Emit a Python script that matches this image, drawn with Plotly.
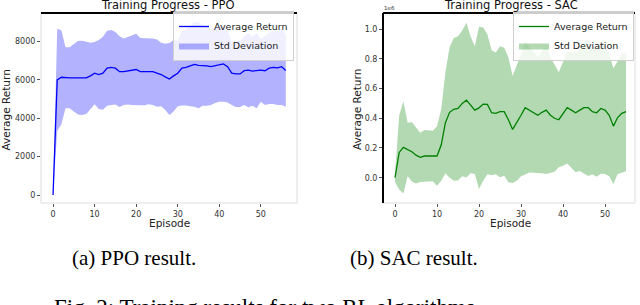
import plotly.graph_objects as go

# ---------------- data ----------------
ppo_episodes = list(range(57))
ppo_mean = [0, 5990, 6130, 6100, 6100, 6100, 6100, 6100, 6100, 6200,
            6340, 6270, 6340, 6600, 6640, 6600, 6420, 6420, 6470, 6500,
            6530, 6420, 6420, 6450, 6420, 6340, 6270, 6150, 6040, 6200,
            6340, 6600, 6640, 6720, 6800, 6750, 6750, 6720, 6680, 6740,
            6790, 6820, 6680, 6340, 6300, 6300, 6470, 6500, 6450, 6470,
            6500, 6470, 6600, 6640, 6620, 6680, 6480]
ppo_std = [0, 2660, 2450, 1590, 1590, 1760, 1910, 1930, 1880, 1720,
           1620, 1800, 1900, 1950, 1950, 1890, 1840, 1730, 1760, 1820,
           1860, 1750, 1750, 1730, 1730, 1750, 1650, 1720, 1870, 1860,
           1720, 1940, 1980, 2100, 2200, 2240, 2110, 2080, 1990, 1950,
           1930, 1960, 1870, 1650, 1720, 1720, 1780, 1930, 1810, 1960,
           1640, 1780, 1860, 1900, 1930, 1990, 1890]

sac_episodes = list(range(56))
# SAC values in units of 1e6
sac_mean = [0.0, 0.17, 0.204, 0.19, 0.175, 0.152, 0.137, 0.146, 0.146, 0.146,
            0.146, 0.22, 0.37, 0.44, 0.46, 0.466, 0.50, 0.522, 0.49, 0.455,
            0.47, 0.495, 0.493, 0.437, 0.433, 0.444, 0.444, 0.39, 0.325, 0.37,
            0.42, 0.471, 0.455, 0.44, 0.42, 0.44, 0.455, 0.42, 0.40, 0.39,
            0.43, 0.471, 0.455, 0.437, 0.455, 0.471, 0.471, 0.444, 0.437, 0.466,
            0.455, 0.42, 0.347, 0.405, 0.433, 0.444]
sac_std = [0.03, 0.25, 0.31, 0.18, 0.20, 0.19, 0.165, 0.175, 0.17, 0.17,
           0.20, 0.24, 0.34, 0.44, 0.48, 0.485, 0.49, 0.52, 0.46, 0.43,
           0.545, 0.515, 0.47, 0.42, 0.41, 0.44, 0.43, 0.42, 0.36, 0.39,
           0.41, 0.45, 0.42, 0.41, 0.39, 0.41, 0.43, 0.39, 0.36, 0.32,
           0.35, 0.375, 0.39, 0.40, 0.41, 0.44, 0.46, 0.42, 0.43, 0.44,
           0.43, 0.41, 0.39, 0.38, 0.40, 0.40]

ppo_xticks = [0, 10, 20, 30, 40, 50]
ppo_yticks = [0, 2000, 4000, 6000, 8000]
sac_xticks = [0, 10, 20, 30, 40, 50]
sac_yticks = [0.0, 0.2, 0.4, 0.6, 0.8, 1.0]

# ---------------- layout helpers ----------------
W, H = 640, 305
def px(x):
    return x / W
def py(y):
    return 1 - y / H

SANS = "DejaVu Sans"
SERIF = "Liberation Serif"

fig = go.Figure()

def add_panel(xs, mean, std, line_color, fill_color, xa, ya, legend):
    upper = [m + s for m, s in zip(mean, std)]
    lower = [m - s for m, s in zip(mean, std)]
    fig.add_trace(go.Scatter(
        x=xs + xs[::-1], y=upper + lower[::-1], fill="toself",
        fillcolor=fill_color, line=dict(width=0), mode="lines",
        name="Std Deviation", xaxis=xa, yaxis=ya, legend=legend,
        legendrank=2, hoverinfo="skip"))
    fig.add_trace(go.Scatter(
        x=xs, y=mean, mode="lines", line=dict(color=line_color, width=1.3),
        name="Average Return", xaxis=xa, yaxis=ya, legend=legend,
        legendrank=1))

add_panel(ppo_episodes, ppo_mean, ppo_std, "#0000ff",
          "rgba(0,0,255,0.3)", "x", "y", "legend")
add_panel(sac_episodes, sac_mean, sac_std, "#008000",
          "rgba(0,128,0,0.3)", "x2", "y2", "legend2")

tickfont = dict(family=SANS, size=8, color="#333333")
axis_common = dict(showgrid=False, zeroline=False, ticks="outside",
                   ticklen=3, tickwidth=0.8, tickcolor="#555555",
                   tickfont=tickfont, showline=False)

legend_common = dict(xanchor="right", yanchor="top",
                     bgcolor="rgba(255,255,255,0.8)", bordercolor="#d0d0d0",
                     borderwidth=1,
                     font=dict(family=SANS, size=9.5, color="#222"),
                     itemwidth=30, tracegroupgap=0)

fig.update_layout(
    width=W, height=H,
    margin=dict(l=0, r=0, t=0, b=0),
    paper_bgcolor="white", plot_bgcolor="white",
    xaxis=dict(domain=[px(41), px(297)], range=[-2.9, 58.7],
               tickvals=ppo_xticks, anchor="y", **axis_common),
    yaxis=dict(domain=[py(203), py(13)], range=[-416, 9473],
               tickvals=ppo_yticks, anchor="x", **axis_common),
    xaxis2=dict(domain=[px(383), px(635)], range=[-2.86, 57.14],
                tickvals=sac_xticks, anchor="y2", **axis_common),
    yaxis2=dict(domain=[py(203), py(13)], range=[-0.170, 1.108],
                tickvals=sac_yticks, tickformat=".1f", anchor="x2",
                **axis_common),
    legend=dict(x=px(294), y=py(11), **legend_common),
    legend2=dict(x=px(634), y=py(11), **legend_common),
    showlegend=True,
)

shapes = []
for xr, yr in (("x", "y"), ("x2", "y2")):
    shapes.append(dict(type="rect", xref=f"{xr} domain", yref=f"{yr} domain",
                       x0=0, x1=1, y0=0, y1=1,
                       line=dict(color="#dddddd", width=1), layer="above"))
    shapes.append(dict(type="line", xref=f"{xr} domain", yref=f"{yr} domain",
                       x0=0, x1=1, y0=1, y1=1,
                       line=dict(color="black", width=2), layer="above"))
shapes.append(dict(type="line", xref="x2 domain", yref="y2 domain",
                   x0=0, x1=0, y0=0, y1=1,
                   line=dict(color="black", width=2), layer="above"))
fig.update_layout(shapes=shapes)

def ann(text, x, y, size, family=SANS, color="#111111", angle=0):
    fig.add_annotation(text=text, x=px(x), y=py(y), xref="paper", yref="paper",
                       showarrow=False, xanchor="center", yanchor="middle",
                       textangle=angle,
                       font=dict(family=family, size=size, color=color))

ann("Training Progress - PPO", 168, 5.5, 11.5)
ann("Training Progress - SAC", 511, 5.5, 11.5)
ann("Episode", 169, 223, 10.5, color="#222222")
ann("Episode", 510, 223, 10.5, color="#222222")
ann("Average Return", 5.5, 110, 10.5, color="#222222", angle=-90)
ann("Average Return", 357, 110, 10.5, color="#222222", angle=-90)
ann("1e6", 389, 8.5, 5.5, color="#333333")
ann("(a) PPO result.", 133.5, 258, 21, family=SERIF, color="#000000")
ann("(b) SAC result.", 413.5, 258, 21, family=SERIF, color="#000000")
ann("Fig. 2: Training results for two RL algorithms", 264, 307, 23,
    family=SERIF, color="#000000")

fig.write_html(
    "out.html",
    config={"displayModeBar": False},
    post_script="document.body.style.margin='0';document.body.style.padding='0';",
)
